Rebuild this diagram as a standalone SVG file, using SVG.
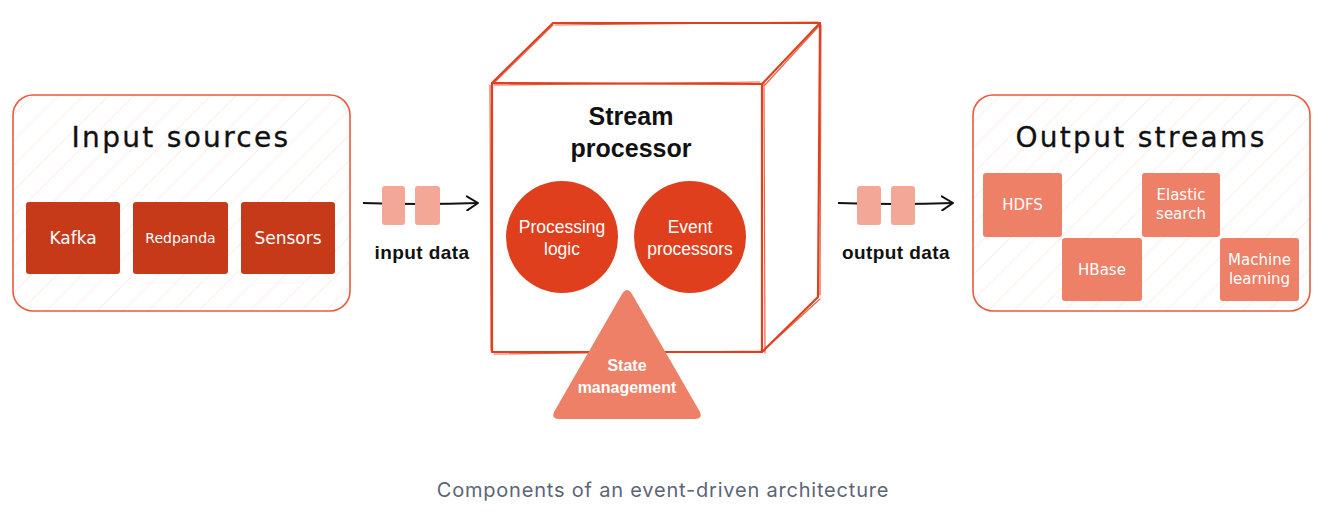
<svg xmlns="http://www.w3.org/2000/svg" width="1329" height="512" viewBox="0 0 1329 512">
<defs>
<pattern id="hatch" patternUnits="userSpaceOnUse" width="18" height="18" patternTransform="rotate(45)">
<line x1="0" y1="0" x2="0" y2="18" stroke="#fbe1d9" stroke-width="1.2"/>
</pattern>
<marker id="arrow" markerWidth="14" markerHeight="16" refX="12" refY="8" orient="auto" markerUnits="userSpaceOnUse">
<path d="M1,1 L12,8 L1,15" fill="none" stroke="#111" stroke-width="2" stroke-linecap="round" stroke-linejoin="round"/>
</marker>
</defs>
<style>
.panel{fill:url(#hatch);stroke:#ec5a3c;stroke-width:1.6}
.title{font-family:"DejaVu Sans","Liberation Sans",sans-serif;font-size:28px;fill:#111;text-anchor:middle;letter-spacing:2.3px;stroke:#111;stroke-width:0.3}
.src{fill:#c63a1a}
.out{fill:#ee8068}
.wt{font-family:"DejaVu Sans","Liberation Sans",sans-serif;fill:#fff;text-anchor:middle}
.edge{stroke:#e0401e;stroke-width:2.2;fill:none;stroke-linejoin:round;stroke-linecap:round}
.edge2{stroke:#e0401e;stroke-width:1.2;fill:none;stroke-linecap:round;opacity:0.8}
.circ{fill:#e03f1d}
.ct{font-family:"Liberation Sans",Arial,sans-serif;font-size:17.5px;fill:#fff;text-anchor:middle}
.pk{fill:#f3a897}
.lbl{font-family:"Liberation Sans",Arial,sans-serif;font-weight:bold;font-size:19px;letter-spacing:0.4px;fill:#111;text-anchor:middle}
.line{stroke:#111;stroke-width:2;fill:none}
</style>
<rect width="1329" height="512" fill="#fff"/>

<g id="input-sources">
<rect class="panel" x="13" y="95" width="337" height="216" rx="20"/>
<text class="title" x="181" y="147">Input sources</text>
<g id="kafka"><rect class="src" x="26" y="202" width="94" height="72" rx="3"/><text class="wt" x="73" y="244" font-size="17">Kafka</text></g>
<g id="redpanda"><rect class="src" x="133" y="202" width="95" height="72" rx="3"/><text class="wt" x="180.5" y="243" font-size="14">Redpanda</text></g>
<g id="sensors"><rect class="src" x="241" y="202" width="94" height="72" rx="3"/><text class="wt" x="288" y="244" font-size="17">Sensors</text></g>
</g>

<g id="connectors">
<g id="input-data">
<path class="line" d="M363,203 Q420,205 478,203" marker-end="url(#arrow)"/>
<rect class="pk" x="382" y="186" width="23" height="39" rx="3"/>
<rect class="pk" x="415" y="186" width="25" height="39" rx="3"/>
<text class="lbl" x="422" y="259">input data</text>
</g>
<g id="output-data">
<path class="line" d="M838,203 Q897,205 953,203" marker-end="url(#arrow)"/>
<rect class="pk" x="857" y="186" width="24" height="39" rx="3"/>
<rect class="pk" x="891" y="186" width="24" height="39" rx="3"/>
<text class="lbl" x="896" y="259">output data</text>
</g>
</g>

<g id="stream-processor">
<path d="M492,83 L553,23 L820,23 L818,297 L762,352 L492,352 Z" fill="#fff"/>
<path class="edge" d="M492,83 L762,84 L762,352 L492,352 Z"/>
<path class="edge" d="M492,83 L553,23 L820,23 L762,84"/>
<path class="edge" d="M820,23 L818,297 L762,352"/>
<path class="edge2" d="M494,85 L760,82 M490,85 L491,350 M494,354 L764,351 M764,83 L765,353 M555,25 L818,22 M821,25 L820,295 M495,82 L553,25 M764,86 L819,26 M764,350 L820,299"/>
<text x="631" y="125" font-family="Liberation Sans,Arial,sans-serif" font-weight="bold" font-size="25" fill="#111" text-anchor="middle">Stream</text>
<text x="631" y="157" font-family="Liberation Sans,Arial,sans-serif" font-weight="bold" font-size="25" fill="#111" text-anchor="middle">processor</text>
</g>

<g id="processing-logic">
<circle class="circ" cx="562" cy="237" r="56"/>
<text class="ct" x="562" y="233">Processing</text>
<text class="ct" x="562" y="255">logic</text>
</g>
<g id="event-processors">
<circle class="circ" cx="690" cy="237" r="56"/>
<text class="ct" x="690" y="233">Event</text>
<text class="ct" x="690" y="255">processors</text>
</g>
<g id="state-management">
<path d="M622,294 Q627,286 632,294 L700,412 Q703,419 695,419 L559,419 Q551,419 554,412 Z" fill="#ee8068"/>
<text x="627" y="371" font-family="Liberation Sans,Arial,sans-serif" font-weight="bold" font-size="16" fill="#fff" text-anchor="middle">State</text>
<text x="627" y="393" font-family="Liberation Sans,Arial,sans-serif" font-weight="bold" font-size="16" fill="#fff" text-anchor="middle">management</text>
</g>

<g id="output-streams">
<rect class="panel" x="973" y="95" width="337" height="216" rx="20"/>
<text class="title" x="1141" y="147">Output streams</text>
<g id="hdfs"><rect class="out" x="983" y="173" width="79" height="64" rx="3"/><text class="wt" x="1022.5" y="210" font-size="15">HDFS</text></g>
<g id="hbase"><rect class="out" x="1062" y="238" width="80" height="63" rx="3"/><text class="wt" x="1102" y="275" font-size="15">HBase</text></g>
<g id="elastic"><rect class="out" x="1142" y="173" width="78" height="64" rx="3"/><text class="wt" x="1181" y="200" font-size="15">Elastic</text><text class="wt" x="1181" y="219" font-size="15">search</text></g>
<g id="ml"><rect class="out" x="1220" y="238" width="79" height="63" rx="3"/><text class="wt" x="1259.5" y="265" font-size="15">Machine</text><text class="wt" x="1259.5" y="284" font-size="15">learning</text></g>
</g>

<text x="663" y="497" font-family="Inter,Liberation Sans,sans-serif" font-size="20" letter-spacing="0.8" fill="#5b6578" text-anchor="middle">Components of an event-driven architecture</text>
</svg>
